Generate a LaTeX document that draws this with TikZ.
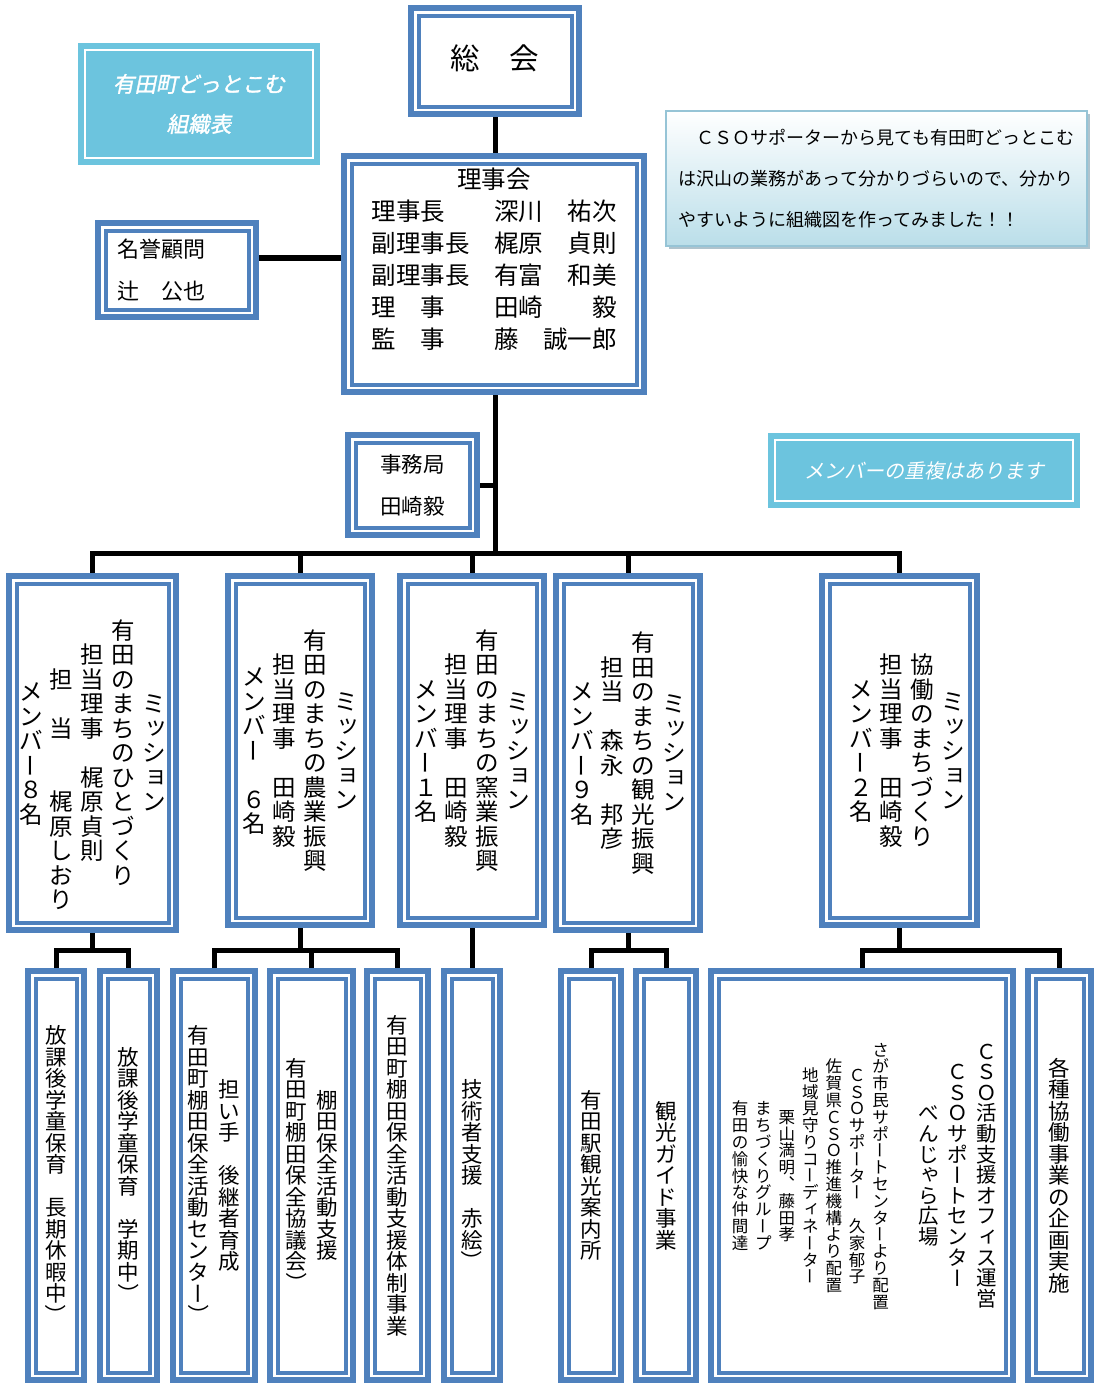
\documentclass[tikz,border=0pt]{standalone}
\usepackage{fontspec}
\usepackage{graphicx}
\setmainfont{Noto Sans CJK JP}
\newfontfamily\slantjp[FakeSlant=0.2]{Noto Sans CJK JP}
\newfontfamily\boldslantjp[FakeSlant=0.2,FakeBold=1.5]{Noto Sans CJK JP}
\usetikzlibrary{shadows}

\definecolor{frameblue}{RGB}{79,129,189}
\definecolor{aqua}{RGB}{108,196,222}
\definecolor{infobottom}{RGB}{186,222,233}
\definecolor{infoline}{RGB}{150,196,214}
\definecolor{infoshadow}{RGB}{175,195,205}

% tategaki: one character per line
\def\tatecolw{1.42em}
\ExplSyntaxOn
\dim_new:N \l_tate_colw_dim
\cs_new_protected:Npn \tate_em:n #1
  { \hbox_to_wd:nn {1em} { \hss #1 \hss } \rule[-0.12em]{0pt}{1em} }
\cs_new_protected:Npn \tate_small:nnn #1#2#3
  { \hbox_to_wd:nn {1em} { \kern #1 \raise #2 \hbox{#3} \hss } \rule[-0.12em]{0pt}{1em} }
\cs_new_protected:Npn \tate_char:n #1
  {
    \hbox_to_wd:nn { \l_tate_colw_dim }
      {
        \hss
        \str_case:nnF {#1}
          {
            {ー} { \rotatebox[origin=c]{90}{\tate_em:n{ー}} }
            {）} { \rotatebox[origin=c]{-90}{\tate_em:n{）}} }
            {、} { \rotatebox[origin=c]{180}{\tate_em:n{、}} }
            {ッ} { \tate_small:nnn {0.1em}{0.12em}{ッ} }
            {ョ} { \tate_small:nnn {0.1em}{0.12em}{ョ} }
            {ィ} { \tate_small:nnn {0.1em}{0.12em}{ィ} }
            {ゃ} { \tate_small:nnn {0.1em}{0.12em}{ゃ} }
          }
          { \tate_em:n {#1} }
        \hss
      }
  }
\NewDocumentCommand \vcol { m }
  {
    \dim_set:Nn \l_tate_colw_dim { \tatecolw }
    \ensuremath{\vcenter{
      \lineskiplimit=-\maxdimen
      \str_map_inline:nn {#1} { \tate_char:n {##1} }
    }}
  }
\ExplSyntaxOff

\tikzset{
  frame/.style={draw=frameblue, line width=6pt, fill=white, inner sep=0pt},
  innerline/.style={draw=frameblue, line width=4pt},
  aquabox/.style={fill=aqua, inner sep=0pt, outer sep=0pt, text=white},
  aqualine/.style={draw=white, line width=2pt},
  infobox/.style={
    draw=infoline, line width=2pt, top color=white, bottom color=infobottom,
    drop shadow={shadow xshift=2.5pt, shadow yshift=-3pt, fill=infoshadow, opacity=1},
    inner sep=0pt
  },
  mission/.style={frame, minimum height=349pt,
    font=\fontsize{23.5}{24.5}\selectfont\def\tatecolw{1.31em}},
  lower/.style={frame, minimum height=409pt,
    font=\fontsize{21.5}{21.5}\selectfont},
  link/.style={line width=5pt, black}
}

\begin{document}
\begin{tikzpicture}[x=1pt, y=-1pt]
  \useasboundingbox (0,0) rectangle (1100,1387);

  % top part
  \node[aquabox, minimum width=242pt, minimum height=122pt, align=center,
    font=\boldslantjp\fontsize{21.5}{40}\selectfont] (title) at (199,104)
    {有田町どっとこむ\\組織表};
  \node[frame, minimum width=168pt, minimum height=106pt,
    font=\fontsize{29.5}{35}\selectfont] (sokai) at (495,61)
    {\raisebox{8pt}{総　会}};
  \node[frame, minimum width=300pt, minimum height=236pt, align=center,
    font=\fontsize{24.5}{32}\selectfont] (rijikai) at (494,274)
    {理事会\\
     理事長　　深川　祐次\\
     副理事長　梶原　貞則\\
     副理事長　有富　和美\\
     理　事　　田崎　　毅\\
     監　事　　藤　誠一郎\\
     \mbox{}};
  \node[frame, minimum width=158pt, minimum height=94pt, align=left,
    text width=120pt, font=\fontsize{22}{42}\selectfont] (meiyo) at (177,270)
    {名誉顧問\\辻　公也};
  \node[frame, minimum width=129pt, minimum height=100pt, align=center,
    font=\fontsize{21.5}{42}\selectfont] (jimu) at (412.5,485)
    {事務局\\田崎毅};
  \node[infobox, minimum width=421pt, minimum height=135pt, align=left,
    font=\fontsize{18}{41}\selectfont] (info) at (876.5,178.5)
    {　ＣＳＯサポーターから見ても有田町どっとこむ\\
     は沢山の業務があって分かりづらいので、分かり\\
     やすいように組織図を作ってみました！！};
  \node[aquabox, minimum width=312pt, minimum height=75pt,
    font=\slantjp\fontsize{20}{24}\selectfont] (member) at (924,470.5)
    {メンバーの重複はあります};

  % missions
  \node[mission, minimum width=167pt, minimum height=354pt] (hito) at (92.5,753)
    {\vcol{メンバー８名}\vcol{　　　担　当　　梶原しおり}\vcol{担当理事　梶原貞則}%
     \vcol{有田のまちのひとづくり}\vcol{ミッション}};
  \node[mission, minimum width=144pt] (nogyo) at (300,750.5)
    {\vcol{メンバー　６名}\vcol{担当理事　田崎毅}\vcol{有田のまちの農業振興}\vcol{ミッション}};
  \node[mission, minimum width=144pt] (yogyo) at (472,750.5)
    {\vcol{メンバー１名}\vcol{担当理事　田崎毅}\vcol{有田のまちの窯業振興}\vcol{ミッション}};
  \node[mission, minimum width=144pt, minimum height=354pt] (kanko) at (628,753)
    {\vcol{メンバー９名}\vcol{担当　森永　邦彦}\vcol{有田のまちの観光振興}\vcol{ミッション}};
  \node[mission, minimum width=155pt] (kyodo) at (899.5,750.5)
    {\hspace{15pt}\vcol{メンバー２名}\vcol{担当理事　田崎毅}\vcol{協働のまちづくり}\vcol{ミッション}};

  % projects
  \node[lower, minimum width=56pt] (gakudo1) at (56,1175.5)
    {\vcol{放課後学童保育　長期休暇中）}};
  \node[lower, minimum width=57pt] (gakudo2) at (128.5,1175.5)
    {\vcol{放課後学童保育　学期中）}};
  \node[lower, minimum width=82pt] (tanada1) at (214,1175.5)
    {\vcol{有田町棚田保全活動センター）}\vcol{担い手　後継者育成}};
  \node[lower, minimum width=83pt] (tanada2) at (311.5,1175.5)
    {\vcol{有田町棚田保全協議会）}\vcol{棚田保全活動支援}};
  \node[lower, minimum width=61pt] (tanada3) at (397.5,1175.5)
    {\vcol{有田町棚田保全活動支援体制事業}};
  \node[lower, minimum width=56pt] (akae) at (472,1175.5)
    {\vcol{技術者支援　赤絵）}};
  \node[lower, minimum width=60pt] (annai) at (591,1175.5)
    {\vcol{有田駅観光案内所}};
  \node[lower, minimum width=60pt] (guide) at (666,1175.5)
    {\vcol{観光ガイド事業}};
  \node[lower, minimum width=302pt, font=\fontsize{20.5}{20.6}\selectfont] (cso) at (862,1175.5)
    {\hspace{6pt}{\fontsize{16.5}{16.8}\selectfont
     \vcol{有田の愉快な仲間達}\vcol{まちづくりグループ}\vcol{栗山満明、藤田孝}%
     \vcol{地域見守りコーディネーター}\vcol{佐賀県ＣＳＯ推進機構より配置}%
     \vcol{ＣＳＯサポーター　久家郁子}\vcol{さが市民サポートセンターより配置}}%
     \hspace{22pt}%
     \vcol{べんじゃら広場}\vcol{ＣＳＯサポートセンター}\vcol{ＣＳＯ活動支援オフィス運営}};
  \node[lower, minimum width=63pt] (kikaku) at (1059.5,1175.5)
    {\vcol{各種協働事業の企画実施}};

  % inner lines of the frames
  \foreach \n in {sokai,rijikai,meiyo,jimu,hito,nogyo,yogyo,kanko,kyodo,
      gakudo1,gakudo2,tanada1,tanada2,tanada3,akae,annai,guide,cso,kikaku}
    \draw[innerline] ([shift={(10.5pt,-10.5pt)}]\n.north west)
      rectangle ([shift={(-10.5pt,10.5pt)}]\n.south east);
  \foreach \n in {title,member}
    \draw[aqualine] ([shift={(7pt,-7pt)}]\n.north west)
      rectangle ([shift={(-7pt,7pt)}]\n.south east);

  % connectors
  \coordinate (bus) at (495,553);
  \coordinate (sub) at (0,950);
  \draw[link] (sokai.south) -- (sokai.south |- rijikai.north);
  \draw[link, line width=6pt] ([yshift=12pt]meiyo.east) -- ([yshift=12pt]meiyo.east -| rijikai.west);
  \draw[link] (rijikai.south -| bus) -- (bus);
  \draw[link] (jimu.east) -- (jimu.east -| bus);
  \draw[link] (hito.north) |- (kyodo.north |- bus) -- (kyodo.north);
  \foreach \m in {nogyo,yogyo,kanko}
    \draw[link] (\m.north) -- (\m.north |- bus);

  \draw[link] (hito.south) -- (hito.south |- sub);
  \draw[link] (gakudo1.north) |- (gakudo2.north |- sub) -- (gakudo2.north);
  \draw[link] (nogyo.south) -- (nogyo.south |- sub);
  \draw[link] (tanada1.north) |- (tanada3.north |- sub) -- (tanada3.north);
  \draw[link] (tanada2.north) -- (tanada2.north |- sub);
  \draw[link] (yogyo.south) -- (akae.north);
  \draw[link] (kanko.south) -- (kanko.south |- sub);
  \draw[link] (annai.north) |- (guide.north |- sub) -- (guide.north);
  \draw[link] (kyodo.south) -- (kyodo.south |- sub);
  \draw[link] (cso.north) |- (kikaku.north |- sub) -- (kikaku.north);
\end{tikzpicture}
\end{document}
